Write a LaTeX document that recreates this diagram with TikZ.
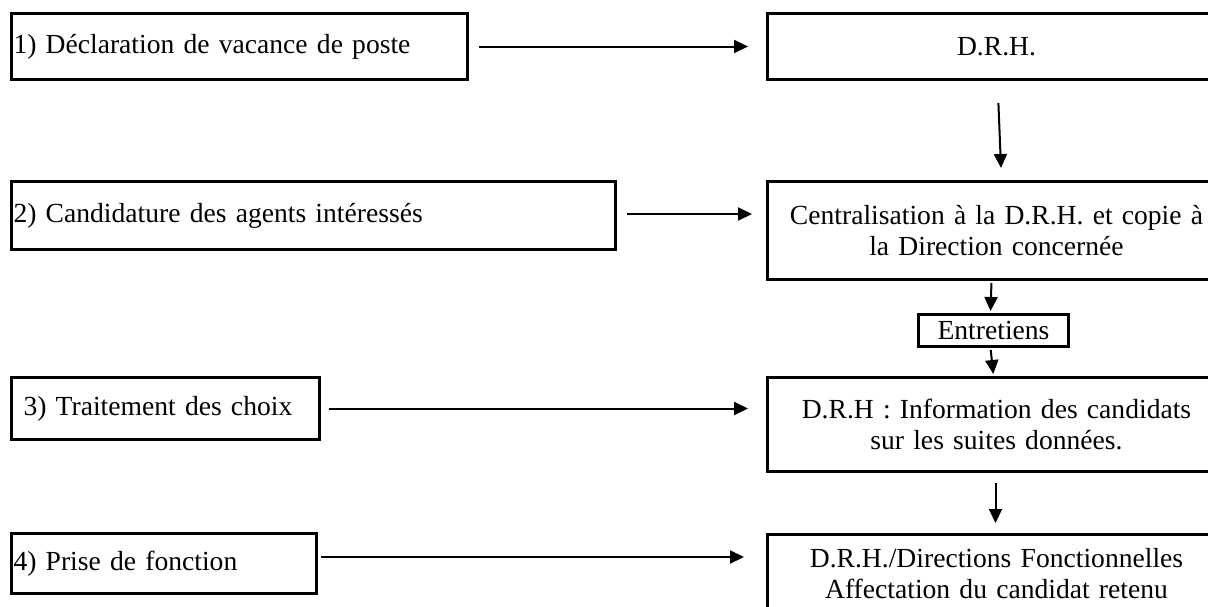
\documentclass[tikz,border=0pt]{standalone}
\usepackage{fontspec}
\setmainfont{Liberation Serif}
\usepackage{tikz}
\usetikzlibrary{positioning}
\usetikzlibrary{arrows.meta}

\begin{document}
\begin{tikzpicture}
  [
    x=1pt, y=-1pt,
    font=\fontsize{27.6}{31}\selectfont,
    etape/.style={
       draw=black,
       line width=3pt,
       anchor=north west,
       align=left,
       inner xsep=2pt,
       inner ysep=0pt,
       text width=#1
    },
    service/.style={
       draw=black,
       line width=3pt,
       anchor=north west,
       align=center,
       inner sep=0pt,
       minimum width=458pt,
       text width=446pt
    },
    fl/.style={
       line width=2pt,
       -{Triangle[length=14pt,width=13pt]}
    }
  ]
  \clip (0,0) rectangle (1208,606);
  \useasboundingbox (0,0) rectangle (1208,606);

  \node (e1) at (10,12)  [etape=452pt, minimum height=66pt] {1) Déclaration de vacance de poste};
  \node (e2) at (10,180) [etape=600pt, minimum height=68pt] {2) Candidature des agents intéressés};
  \node (e3) at (10,376) [etape=284pt, minimum height=62pt, inner xsep=12pt] {3) Traitement des choix};
  \node (e4) at (10,532) [etape=301pt, minimum height=60pt] {4) Prise de fonction};

  \node (s1) at (766,12)  [service, minimum height=66pt] {D.R.H.};
  \node (s2) at (766,180) [service, minimum height=98pt] {Centralisation à la D.R.H. et copie à\\ la Direction concernée};
  \node (ent) at (917,313) [draw=black, line width=3pt, anchor=north west,
                            minimum width=150pt, minimum height=32pt, inner sep=0pt] {Entretiens};
  \node (s3) at (766,376) [service, minimum height=94pt] {D.R.H : Information des candidats\\ sur les suites données.};
  \node (s4) at (766,533) [service, minimum height=78pt] {D.R.H./Directions Fonctionnelles\\ Affectation du candidat retenu};

  % etapes vers services
  \draw [fl, shorten <=10pt, shorten >=18pt] (e1.east) -- (e1.east -| s1.west);
  \draw [fl, shorten <=10pt, shorten >=14pt] (e2.north east |- 0,214) -- (s2.west |- 0,214);
  \draw [fl, shorten <=8pt,  shorten >=18pt] (e3.east) -- (e3.east -| s3.west);
  \draw [fl, shorten <=3pt,  shorten >=22pt] (e4.east |- 0,557) -- (s4.west |- 0,557);

  % enchainement vertical
  \draw [fl, shorten <=22pt, shorten >=12pt] ([xshift=1pt]s1.south) -- ([xshift=5pt]s2.north);
  \draw [fl, shorten <=2pt,  shorten >=2pt]  ([xshift=-5pt]s2.south) -- ([xshift=-3pt]ent.north);
  \draw [fl, shorten <=2pt,  shorten >=2pt]  ([xshift=-3pt]ent.south) -- ([xshift=-3pt]s3.north);
  \draw [fl, shorten <=10pt, shorten >=10pt] ([xshift=-1pt]s3.south) -- ([xshift=-1pt]s4.north);
\end{tikzpicture}
\end{document}
